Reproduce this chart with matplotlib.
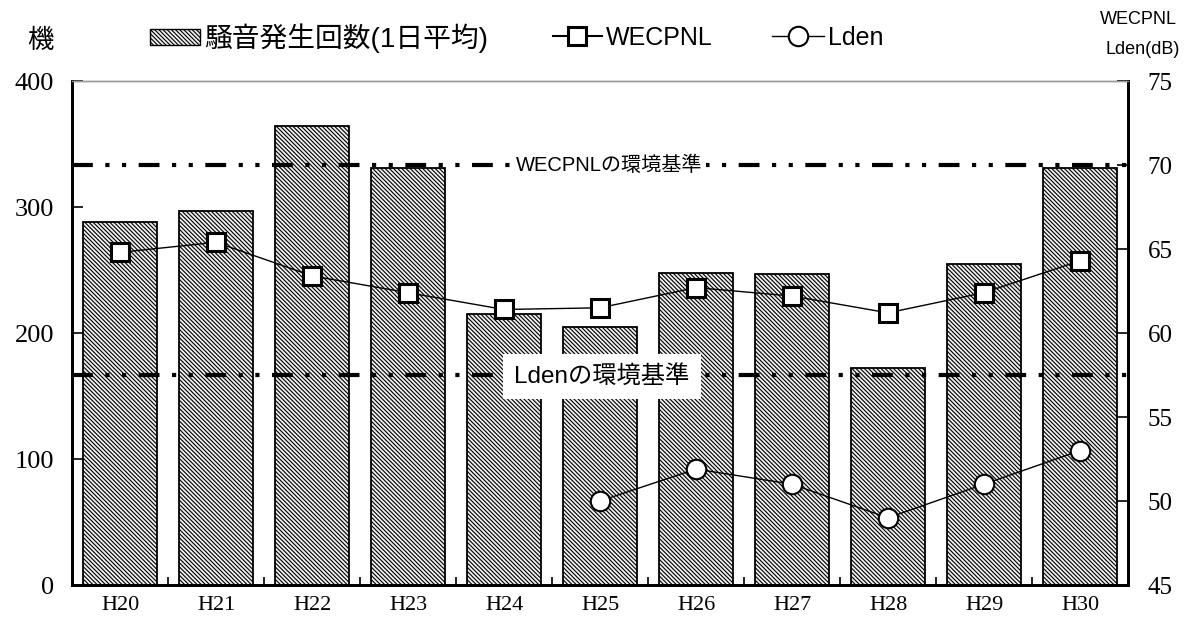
import matplotlib
matplotlib.use("Agg")
import matplotlib.pyplot as plt
from matplotlib.lines import Line2D
from matplotlib.patches import Patch

plt.rcParams['hatch.linewidth'] = 0.8
plt.rcParams['hatch.color'] = '#505050'

years = ["H20", "H21", "H22", "H23", "H24", "H25", "H26", "H27", "H28", "H29", "H30"]
noise_counts = [288, 297, 364, 331, 215, 205, 248, 247, 172, 255, 331]
wecpnl = [64.8, 65.4, 63.4, 62.4, 61.4, 61.5, 62.7, 62.2, 61.2, 62.4, 64.3]
lden_years = ["H25", "H26", "H27", "H28", "H29", "H30"]
lden = [50.0, 51.9, 51.0, 49.0, 51.0, 53.0]
wecpnl_std = 70
lden_std = 57.5

sans = ['Liberation Sans', 'Noto Sans CJK JP', 'DejaVu Sans']
cjk = ['Noto Sans CJK JP', 'DejaVu Sans']
serif = ['Liberation Serif', 'DejaVu Serif']
HATCH = '\\\\\\\\\\\\\\\\'
BARFACE = '#eeeeee'

fig = plt.figure(figsize=(11.84, 6.17), dpi=100)
ax = fig.add_axes([72/1184, 1-585/617, (1128-72)/1184, (585-81)/617])
ax2 = ax.twinx()
ax.set_zorder(1)
ax2.set_zorder(2)
ax2.patch.set_visible(False)

x = list(range(len(years)))
ax.bar(x, noise_counts, width=0.78, facecolor=BARFACE, edgecolor='black',
       linewidth=1.3, hatch=HATCH, zorder=2)
ax.set_xlim(-0.5, len(years)-0.5)
ax.set_ylim(0, 400)
ax.set_yticks([0, 100, 200, 300, 400])
ax.set_xticks([i+0.5 for i in range(len(years)-1)], minor=False)
ax.set_xticklabels([])
ax.set_xticks(x, minor=True)
ax.set_xticklabels(years, minor=True, fontfamily=serif, fontsize=16)
ax.tick_params(axis='x', which='major', direction='in', length=6, width=1.2)
ax.tick_params(axis='x', which='minor', length=0, pad=8)
ax.tick_params(axis='y', direction='in', length=8, width=1.2, labelsize=19, pad=13)
for lbl in ax.get_yticklabels():
    lbl.set_fontfamily(serif)

ax2.set_ylim(45, 75)
ax2.set_yticks([45, 50, 55, 60, 65, 70, 75])
ax2.tick_params(axis='y', direction='in', length=8, width=1.2, labelsize=18, pad=14)
for lbl in ax2.get_yticklabels():
    lbl.set_fontfamily(serif)

for a in (ax, ax2):
    for s in ('left', 'right', 'bottom'):
        a.spines[s].set_linewidth(2.0)
    a.spines['top'].set_color('#999999')
    a.spines['top'].set_linestyle((0, (1, 1)))
    a.spines['top'].set_linewidth(1.0)

dash = (0, (5, 3, 1, 3, 1, 3))
ax2.axhline(wecpnl_std, color='black', linewidth=3, linestyle=dash, zorder=1)
ax2.axhline(lden_std, color='black', linewidth=3, linestyle=dash, zorder=1)

ax2.plot(x, wecpnl, color='black', linewidth=1, marker='s', markersize=13,
         markerfacecolor='white', markeredgecolor='black', markeredgewidth=2.2, zorder=5)
lx = [years.index(y) for y in lden_years]
ax2.plot(lx, lden, color='black', linewidth=1, marker='o', markersize=14,
         markerfacecolor='white', markeredgecolor='black', markeredgewidth=1.5, zorder=5)

ax2.text(5.1, wecpnl_std, "WECPNLの環境基準", fontfamily=sans, fontsize=14.5,
         ha='center', va='center', zorder=3,
         bbox=dict(facecolor='white', edgecolor='none', pad=2))
ax2.text(5.02, lden_std-0.1, "Ldenの環境基準", fontfamily=sans, fontsize=17.5,
         ha='center', va='center', zorder=3,
         bbox=dict(facecolor='white', edgecolor='none', pad=8))

fig.text(40/1184, 1-40/617, "機", fontfamily=cjk, fontsize=19, ha='center', va='center')
fig.text(1177/1184, 1-20/617, "WECPNL", fontfamily=sans, fontsize=13, ha='right', va='center')
fig.text(1180/1184, 1-50/617, "Lden(dB)", fontfamily=sans, fontsize=13, ha='right', va='center')

items = [
    (Patch(facecolor=BARFACE, edgecolor='black', hatch=HATCH, linewidth=1),
     "騒音発生回数(1日平均)", 150, 1.8, 20, 0.5),
    (Line2D([], [], color='black', linewidth=1.5, marker='s', markersize=13,
            markerfacecolor='white', markeredgewidth=2.2), "WECPNL", 553, 1.95, 18, 0.7),
    (Line2D([], [], color='black', linewidth=1, marker='o', markersize=14,
            markerfacecolor='white', markeredgewidth=1.5), "Lden", 772, 2.1, 18, 0.7),
]
for h, lab, px, hl, fs, hh in items:
    fig.legend([h], [lab], loc='center left', bbox_to_anchor=(px/1184, 1-38/617),
               frameon=False, prop={'family': sans, 'size': fs}, handlelength=hl,
               handleheight=hh, handletextpad=0.15, borderpad=0, borderaxespad=0)

fig.savefig("out.png", dpi=100)
